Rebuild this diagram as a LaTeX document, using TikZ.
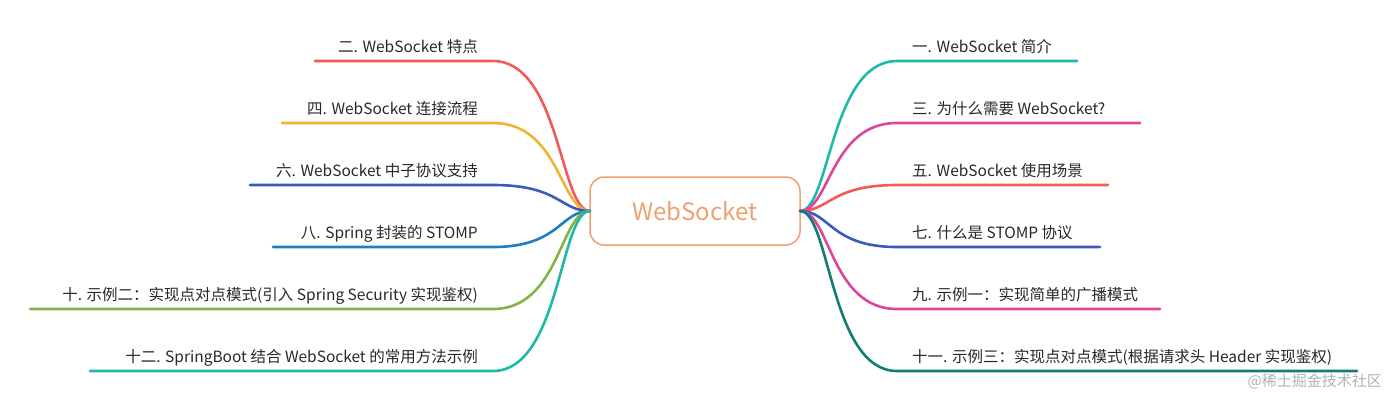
\documentclass[tikz,border=0pt]{standalone}
\usepackage{fontspec}
\setmainfont{Noto Sans CJK SC}
\definecolor{cA}{RGB}{30,185,170}
\definecolor{cB}{RGB}{220,70,155}
\definecolor{cC}{RGB}{242,90,90}
\definecolor{cD}{RGB}{60,90,190}
\definecolor{cE}{RGB}{20,125,115}
\definecolor{cY}{RGB}{240,180,50}
\definecolor{cF}{RGB}{30,125,195}
\definecolor{cG}{RGB}{130,180,70}
\definecolor{cO}{RGB}{238,160,110}
\definecolor{cT}{RGB}{40,40,40}
\begin{document}
\begin{tikzpicture}[x=1pt,y=-1pt,
  br/.style={line width=2.6pt,line cap=round},
  lab/.style={text=cT,font=\fontsize{15.5}{18}\selectfont,inner sep=0pt},
  labr/.style={lab,anchor=base west},
  labl/.style={lab,anchor=base east}]
\useasboundingbox (0,0) rectangle (1394,402);
\node[draw=cO,line width=1.5pt,rounded corners=14pt,minimum width=210pt,minimum height=68pt,text=cO,font=\fontsize{24}{28}\selectfont] (c) at (695,211) {WebSocket};
\coordinate (R) at (800,211);
\coordinate (L) at (590,211);
% right
\foreach \y/\e/\col/\t/\n in {61/1077/cA/{一. WebSocket 简介}/r1,123/1140/cB/{三. 为什么需要 WebSocket?}/r2,185/1108/cC/{五. WebSocket 使用场景}/r3,247/1100/cD/{七. 什么是 STOMP 协议}/r4,309/1160/cB/{九. 示例一：实现简单的广播模式}/r5,371/1357/cE/{十一. 示例三：实现点对点模式(根据请求头 Header 实现鉴权)}/r6}{
  \coordinate (\n s) at (897,\y);
  \coordinate (\n e) at (\e,\y);
  \draw[br,draw=\col] (R) .. controls (830,211) and (830,\y) .. (\n s) -- (\n e);
  \node[labr] (\n) at (912,\y-9) {\t};
}
% left
\foreach \y/\e/\col/\t/\n in {61/315/cC/{二. WebSocket 特点}/l1,123/282/cY/{四. WebSocket 连接流程}/l2,185/250/cD/{六. WebSocket 中子协议支持}/l3,247/273/cF/{八. Spring 封装的 STOMP}/l4,309/30/cG/{十. 示例二：实现点对点模式(引入 Spring Security 实现鉴权)}/l5,371/90/cA/{十二. SpringBoot 结合 WebSocket 的常用方法示例}/l6}{
  \coordinate (\n s) at (493,\y);
  \coordinate (\n e) at (\e,\y);
  \draw[br,draw=\col] (L) .. controls (560,211) and (560,\y) .. (\n s) -- (\n e);
  \node[labl] (\n) at (478,\y-9) {\t};
}
\node[text=gray!60,font=\fontsize{15}{18}\selectfont,anchor=base east,inner sep=0pt] (wm) at (1382,386) {@稀土掘金技术社区};
\end{tikzpicture}
\end{document}
